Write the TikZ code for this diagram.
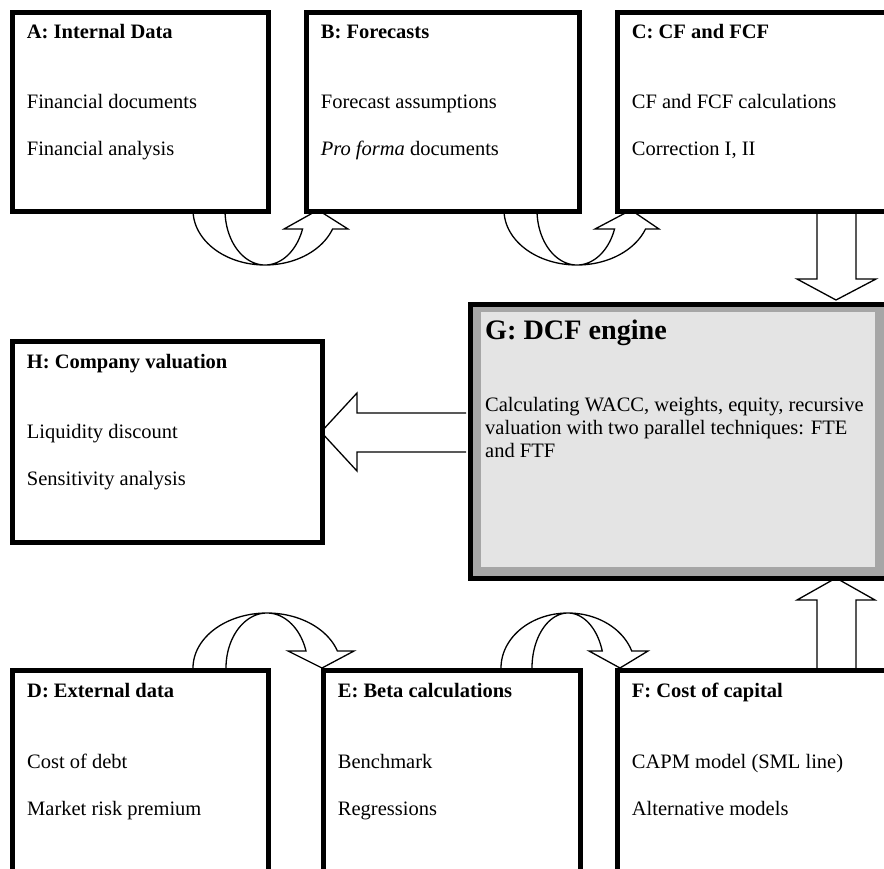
\documentclass[tikz,border=0pt]{standalone}
\usepackage{fontspec}
\setmainfont{Liberation Serif}
\definecolor{gband}{HTML}{A6A6A6}
\definecolor{ginner}{HTML}{E4E4E4}
\tikzset{
  box/.style={draw, line width=4.5pt, inner sep=0pt, anchor=north west},
  blk/.style={draw, line width=1.3pt, line join=miter},
  ttl/.style={anchor=base west, inner sep=0pt, font=\fontsize{20.5}{24}\selectfont\bfseries},
  txt/.style={anchor=base west, inner sep=0pt, font=\fontsize{20.5}{24}\selectfont},
  gttl/.style={anchor=base west, inner sep=0pt, font=\fontsize{28.2}{32}\selectfont\bfseries},
}
% curved (U-turn) block arrow: #1 cx, #2 cy, #3 dir (1 below / -1 above), #4 outer r, #5 inner r,
% #6 wing offset, #7 left wing x, #8 tip x, #9 right wing x
\newcommand\myUturn[9]{%
  \pgfmathsetmacro\myTw{asin(#6/55)}%
  \draw[blk] plot[domain=180:90,samples=40,variable=\t] ({#1+#4*cos(\t)},{#2+(#3)*55*sin(\t)})
    -- plot[domain=90:\myTw,samples=40,variable=\t] ({#1+#4*cos(\t)},{#2+(#3)*55*sin(\t)})
    -- (#9,{#2+(#3)*(#6)}) -- (#8,#2) -- (#7,{#2+(#3)*(#6)})
    -- plot[domain=\myTw:90,samples=40,variable=\t] ({#1+#5*cos(\t)},{#2+(#3)*55*sin(\t)})
    -- plot[domain=90:180,samples=40,variable=\t] ({#1+#5*cos(\t)},{#2+(#3)*55*sin(\t)});
}
\begin{document}
\begin{tikzpicture}[x=1pt,y=-1pt]
\useasboundingbox (0,0) rectangle (884,868);
\clip (0,0) rectangle (884,868);
\fill[white] (0,0) rectangle (884,868);

% block arrows
\myUturn{265}{210}{1}{72}{40}{19}{284}{318}{348}
\myUturn{577}{210}{1}{73}{40}{19}{595}{631}{659}
\myUturn{267}{668}{-1}{74}{41}{17}{288}{322}{354}
\myUturn{568}{668}{-1}{67}{36}{17}{589}{620}{648}
\draw[blk] (817,209) -- (817,279) -- (797,279) -- (836,300) -- (876,279) -- (856,279) -- (856,209);
\draw[blk] (817,668) -- (817,600) -- (797,600) -- (836,578) -- (875,600) -- (856,600) -- (856,668);
\draw[blk] (466,413) -- (357,413) -- (357,393) -- (321,432) -- (357,471) -- (357,452) -- (466,452);

% boxes
\node[box, minimum width=256pt, minimum height=199pt] (A) at (10,10) {};
\node[box, minimum width=273pt, minimum height=199pt] (B) at (304,10) {};
\node[box, minimum width=285pt, minimum height=199pt] (C) at (615,10) {};
\node[box, minimum width=310pt, minimum height=201pt] (H) at (10,339) {};
\node[box, fill=gband, minimum width=432pt, minimum height=274pt] (G) at (468,302) {};
\node[fill=ginner, inner sep=0pt, anchor=north west, minimum width=394pt, minimum height=255pt] (Gi) at (481,312) {};
\node[box, minimum width=256pt, minimum height=240pt] (D) at (10,668) {};
\node[box, minimum width=257pt, minimum height=240pt] (E) at (321,668) {};
\node[box, minimum width=285pt, minimum height=240pt] (F) at (615,668) {};

% texts
\node[ttl] (At) at ([shift={(16.7,28.5)}]A.north west) {A: Internal Data};
\node[txt] (A1) at ([shift={(16.7,98.3)}]A.north west) {Financial documents};
\node[txt] (A2) at ([shift={(16.7,145.7)}]A.north west) {Financial analysis};

\node[ttl] (Bt) at ([shift={(16.7,28.5)}]B.north west) {B: Forecasts};
\node[txt] (B1) at ([shift={(16.7,98.3)}]B.north west) {Forecast assumptions};
\node[txt] (B2) at ([shift={(16.7,145.7)}]B.north west) {\textit{Pro forma} documents};

\node[ttl] (Ct) at ([shift={(16.7,28.5)}]C.north west) {C: CF and FCF};
\node[txt] (C1) at ([shift={(16.7,98.3)}]C.north west) {CF and FCF calculations};
\node[txt] (C2) at ([shift={(16.7,145.7)}]C.north west) {Correction I, II};

\node[ttl] (Ht) at ([shift={(16.7,29.3)}]H.north west) {H: Company valuation};
\node[txt] (H1) at ([shift={(16.7,99.3)}]H.north west) {Liquidity discount};
\node[txt] (H2) at ([shift={(16.7,146.7)}]H.north west) {Sensitivity analysis};

\node[ttl] (Dt) at ([shift={(17,29.7)}]D.north west) {D: External data};
\node[txt] (D1) at ([shift={(17,100.3)}]D.north west) {Cost of debt};
\node[txt] (D2) at ([shift={(17,147.7)}]D.north west) {Market risk premium};

\node[ttl] (Et) at ([shift={(16.7,29.7)}]E.north west) {E: Beta calculations};
\node[txt] (E1) at ([shift={(16.7,100.3)}]E.north west) {Benchmark};
\node[txt] (E2) at ([shift={(16.7,147.7)}]E.north west) {Regressions};

\node[ttl] (Ft) at ([shift={(16.7,29.7)}]F.north west) {F: Cost of capital};
\node[txt] (F1) at ([shift={(16.7,100.3)}]F.north west) {CAPM model (SML line)};
\node[txt] (F2) at ([shift={(16.7,147.7)}]F.north west) {Alternative models};

\node[gttl] (Gt) at ([shift={(4,27.3)}]Gi.north west) {G: DCF engine};
\node[txt] (G1) at ([shift={(4,99)}]Gi.north west) {Calculating WACC, weights, equity, recursive};
\node[txt] (G2) at ([shift={(4,122.3)}]Gi.north west) {valuation with two parallel techniques: FTE};
\node[txt] (G3) at ([shift={(4,145.5)}]Gi.north west) {and FTF};
\end{tikzpicture}
\end{document}
